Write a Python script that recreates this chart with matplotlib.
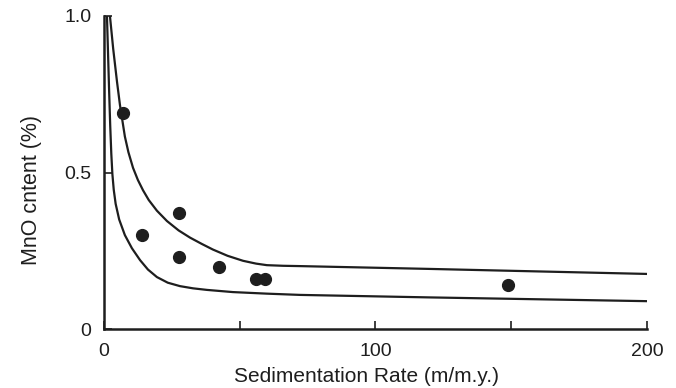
import matplotlib
matplotlib.use("Agg")
import matplotlib.pyplot as plt
import numpy as np

plt.rcParams["font.family"] = ["Liberation Sans", "DejaVu Sans"]

# measured samples (sedimentation rate, MnO %)
rate = [7.0, 14.0, 27.6, 27.6, 42.4, 56.0, 59.3, 149.0]
mno = [0.69, 0.30, 0.37, 0.23, 0.198, 0.16, 0.16, 0.14]

# hand drawn envelope curves
upper_x = [2.2, 3.4, 4.8, 5.9, 7.7, 9.0, 10.7, 12.5, 14.4, 16.5, 19.5, 23.2, 27.5, 31.7, 36.0, 40.1, 45.5, 51.2, 56.0, 60.0, 66.0, 72.2, 120.0, 160.0, 200.0]
upper_y = [1.0, 0.895, 0.79, 0.715, 0.615, 0.565, 0.515, 0.476, 0.443, 0.412, 0.378, 0.345, 0.315, 0.292, 0.272, 0.254, 0.234, 0.218, 0.209, 0.204, 0.202, 0.201, 0.192, 0.184, 0.176]
lower_x = [1.1, 1.5, 1.9, 2.3, 2.7, 3.1, 3.6, 4.3, 5.6, 7.7, 10.3, 13.3, 16.2, 19.5, 23.5, 28.0, 32.8, 37.9, 47.5, 60.0, 72.2, 120.0, 160.0, 200.0]
lower_y = [1.0, 0.88, 0.76, 0.65, 0.56, 0.495, 0.445, 0.40, 0.35, 0.30, 0.258, 0.22, 0.19, 0.166, 0.148, 0.137, 0.130, 0.125, 0.118, 0.113, 0.109, 0.101, 0.095, 0.089]

fig = plt.figure(figsize=(6.76, 3.88), dpi=100)
ax = fig.add_axes([0.1538, 0.152, 0.8032, 0.8068])

ink = "#1e1e1e"
ax.plot(upper_x, upper_y, color=ink, lw=1.6, solid_joinstyle="round")
ax.plot(lower_x, lower_y, color=ink, lw=1.6, solid_joinstyle="round")
ax.plot(rate, mno, "o", color=ink, ms=8.5, mec=ink)

ax.set_xlim(0, 200)
ax.set_ylim(0, 1.0)
ax.spines["top"].set_visible(False)
ax.spines["right"].set_visible(False)
for s in ["left", "bottom"]:
    ax.spines[s].set_linewidth(1.8)
    ax.spines[s].set_color(ink)

ax.set_xticks([0, 100, 200])
ax.set_xticklabels(["0", "100", "200"])
ax.set_xticks([50, 150], minor=True)
ax.set_yticks([0, 0.5, 1.0])
ax.set_yticklabels(["0", "0.5", "1.0"])
ax.tick_params(axis="both", which="both", direction="in", length=6, width=1.2,
               colors=ink, labelsize=14)
ax.tick_params(axis="x", pad=10)
ax.tick_params(axis="y", pad=9)

ax.set_xlabel("Sedimentation Rate (m/m.y.)", fontsize=15, color=ink, va="center")
ax.set_ylabel("MnO cntent (%)", fontsize=15.5, color=ink, va="center")
ax.xaxis.set_label_coords(0.483, -0.153)
ax.yaxis.set_label_coords(-0.134, 0.444)

fig.savefig("out.png", dpi=100, facecolor="white")
